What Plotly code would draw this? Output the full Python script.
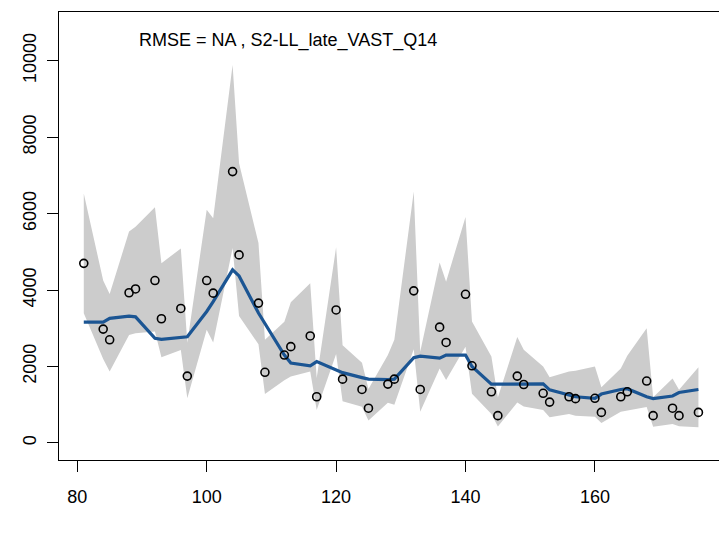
import plotly.graph_objects as go

# Time steps (quarterly index) of the survey index
time_step = [81, 84, 85, 88, 89, 92, 93, 96, 97, 100, 101, 104, 105, 108, 109,
             112, 113, 116, 117, 120, 121, 124, 125, 128, 129, 132, 133, 136, 137,
             140, 141, 144, 145, 148, 149, 152, 153, 156, 157, 160, 161, 164, 165,
             168, 169, 172, 173, 176]

# Observed index values
observed = [4700, 2980, 2700, 3930, 4030, 4250, 3250, 3520, 1750, 4250, 3920,
            7100, 4920, 3660, 1850, 2300, 2520, 2800, 1210, 3480, 1670, 1400,
            910, 1540, 1670, 3980, 1400, 3030, 2630, 3890, 2020, 1340, 715, 1750,
            1530, 1300, 1070, 1210, 1160, 1170, 800, 1210, 1340, 1620, 715, 910,
            715, 800]

# Model-expected index
expected = [3160, 3160, 3260, 3320, 3300, 2740, 2710, 2760, 2780, 3440, 3700,
            4530, 4370, 3400, 3130, 2300, 2090, 2020, 2130, 1910, 1840, 1710,
            1670, 1660, 1670, 2230, 2270, 2220, 2300, 2300, 2000, 1540, 1540, 1530,
            1530, 1545, 1390, 1240, 1210, 1170, 1280, 1400, 1420, 1210, 1160, 1230,
            1320, 1400]

# Observation uncertainty interval
ci_upper = [6530, 4250, 3900, 5530, 5660, 6170, 4700, 5090, 2620, 6100, 5880,
            9890, 7320, 5230, 2700, 3170, 3680, 4180, 1700, 5120, 2560, 2100,
            1410, 2300, 2700, 6580, 2390, 4720, 4220, 5910, 3180, 2260, 1190, 2770,
            2440, 2000, 1720, 1870, 1890, 2000, 1460, 1950, 2280, 3000, 1195, 1690,
            1390, 1980]
ci_lower = [3395, 2200, 1867, 2827, 2871, 2914, 2243, 2435, 1170, 2960, 2630,
            5100, 3320, 2580, 1280, 1640, 1740, 1870, 864, 2330, 1090, 950,
            590, 1050, 1000, 2450, 820, 1950, 1650, 2520, 1290, 760, 430, 1060,
            955, 860, 675, 760, 712, 688, 520, 820, 850, 940, 428, 500,
            440, 410]

x_ticks = [80, 100, 120, 140, 160, 180]
y_ticks = [0, 2000, 4000, 6000, 8000, 10000]

label_text = "RMSE = NA , S2-LL_late_VAST_Q14"

FONT = "Liberation Sans, Arial, Helvetica, sans-serif"

fig = go.Figure()

# Shaded interval polygon
fig.add_trace(go.Scatter(
    x=time_step + time_step[::-1],
    y=ci_upper + ci_lower[::-1],
    fill="toself",
    fillcolor="#cccccc",
    line=dict(width=0),
    mode="lines",
    hoverinfo="skip",
    showlegend=False,
))

# Expected index line
fig.add_trace(go.Scatter(
    x=time_step, y=expected,
    mode="lines",
    line=dict(color="#1b5593", width=3.2),
    showlegend=False,
))

# Observed values as open circles
fig.add_trace(go.Scatter(
    x=time_step, y=observed,
    mode="markers",
    marker=dict(symbol="circle-open", size=8, color="black",
                line=dict(width=1.6, color="black")),
    showlegend=False,
))

fig.add_annotation(
    x=112.6, y=10520, xref="x", yref="y",
    text=label_text, showarrow=False,
    xanchor="center", yanchor="middle",
    font=dict(family=FONT, size=18, color="black"),
)

fig.update_layout(
    width=719, height=540,
    margin=dict(l=59, r=0, t=12, b=80),
    paper_bgcolor="white",
    plot_bgcolor="white",
    font=dict(family=FONT, size=18, color="black"),
    showlegend=False,
)

fig.update_xaxes(
    range=[77.17, 179.18],
    tickvals=x_ticks,
    ticktext=[str(v) for v in x_ticks],
    ticks="outside", ticklen=11, tickwidth=1.2, tickcolor="black",
    showline=True, linecolor="black", linewidth=1.2, mirror=True,
    showgrid=False, zeroline=False,
    ticklabelstandoff=9,
    tickfont=dict(family=FONT, size=18, color="black"),
)

fig.update_yaxes(
    range=[-445, 11275],
    tickvals=y_ticks,
    ticktext=[str(v) for v in y_ticks],
    tickangle=-90,
    ticks="outside", ticklen=11, tickwidth=1.2, tickcolor="black",
    showline=True, linecolor="black", linewidth=1.2, mirror=False,
    showgrid=False, zeroline=False,
    ticklabelstandoff=4,
    tickfont=dict(family=FONT, size=18, color="black"),
)

fig.write_html("out.html")
